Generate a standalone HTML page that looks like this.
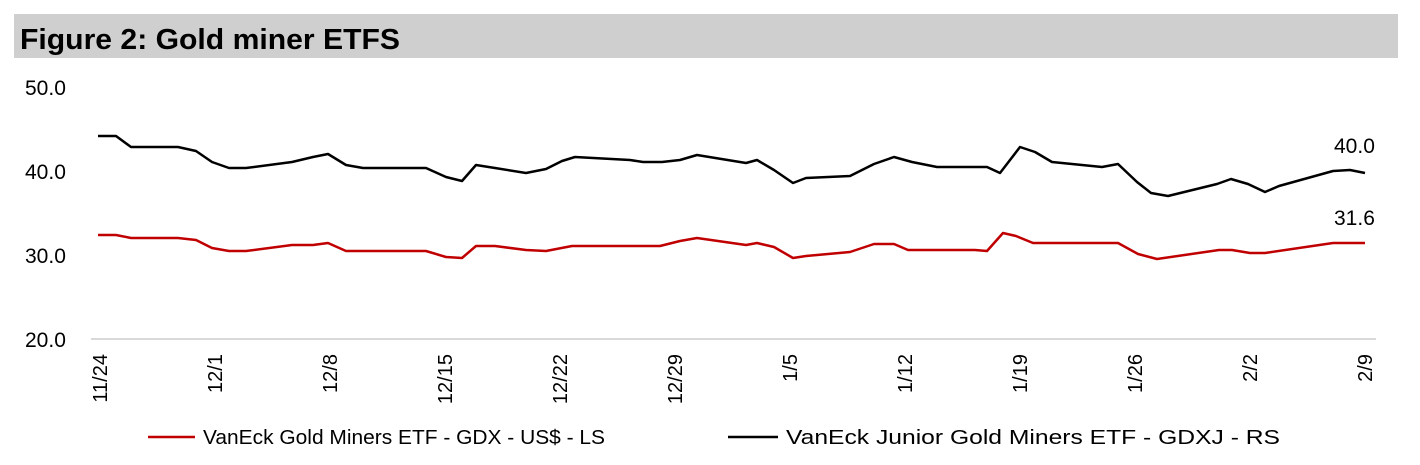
<!DOCTYPE html>
<html><head><meta charset="utf-8"><style>
body{margin:0;background:#fff;width:1420px;height:460px;overflow:hidden;font-family:"Liberation Sans",Arial,sans-serif}
</style></head><body>
<svg width="1420" height="460" xmlns="http://www.w3.org/2000/svg" font-family="Liberation Sans, Arial, sans-serif">
<rect x="14" y="14" width="1384" height="44" fill="#d0cfd0"/>
<text x="20" y="49" font-size="29" font-weight="bold" fill="#000" textLength="380" lengthAdjust="spacingAndGlyphs">Figure 2: Gold miner ETFS</text>
<g font-size="21" fill="#000">
<text x="25" y="95">50.0</text>
<text x="25" y="179">40.0</text>
<text x="25" y="263">30.0</text>
<text x="25" y="347">20.0</text>
<text x="1334" y="153">40.0</text>
<text x="1334" y="225">31.6</text>
</g>
<line x1="91" y1="339" x2="1376" y2="339" stroke="#d9d9d9" stroke-width="2"/>
<g font-size="20" fill="#000" text-anchor="end">
<text transform="translate(107,354) rotate(-90)">11/24</text>
<text transform="translate(222,354) rotate(-90)">12/1</text>
<text transform="translate(337,354) rotate(-90)">12/8</text>
<text transform="translate(452,354) rotate(-90)">12/15</text>
<text transform="translate(567,354) rotate(-90)">12/22</text>
<text transform="translate(682,354) rotate(-90)">12/29</text>
<text transform="translate(797,354) rotate(-90)">1/5</text>
<text transform="translate(912,354) rotate(-90)">1/12</text>
<text transform="translate(1027,354) rotate(-90)">1/19</text>
<text transform="translate(1142,354) rotate(-90)">1/26</text>
<text transform="translate(1257,354) rotate(-90)">2/2</text>
<text transform="translate(1372,354) rotate(-90)">2/9</text>
</g>
<polyline fill="none" stroke="#000" stroke-width="2.5" stroke-linejoin="round" points="98,136 116,136 131,147 178,147 196,151 212,162 229,168 246,168 292,162 313,157 328,154 346,165 363,168 426,168 446,177 462,181 476,165 495,168 526,173 546,169 562,161 575,157 630,160 643,162 662,162 680,160 697,155 746,163 757,160 774,170 793,183 806,178 850,176 874,164 894,157 912,162 937,167 987,167 1000,173 1020,147 1035,152 1052,162 1102,167 1118,164 1137,182 1151,193 1168,196 1217,184 1231,179 1248,184 1265,192 1279,186 1333,171 1350,170 1365,173"/>
<polyline fill="none" stroke="#c00000" stroke-width="2.5" stroke-linejoin="round" points="98,235 116,235 131,238 178,238 196,240 212,248 229,251 246,251 292,245 313,245 328,243 346,251 426,251 446,257 462,258 476,246 495,246 526,250 546,251 572,246 660,246 680,241 697,238 746,245 757,243 774,247 793,258 806,256 850,252 874,244 894,244 908,250 975,250 987,251 1003,233 1016,236 1033,243 1118,243 1138,254 1157,259 1219,250 1232,250 1250,253 1265,253 1333,243 1365,243"/>
<line x1="148" y1="437" x2="195" y2="437" stroke="#c00000" stroke-width="2.5"/>
<text x="203" y="444" font-size="20.5" fill="#000" textLength="402" lengthAdjust="spacingAndGlyphs">VanEck Gold Miners ETF  - GDX  - US$ - LS</text>
<line x1="728" y1="437" x2="778" y2="437" stroke="#000" stroke-width="2.5"/>
<text x="786" y="444" font-size="20.5" fill="#000" textLength="494" lengthAdjust="spacingAndGlyphs">VanEck Junior Gold Miners ETF - GDXJ - RS</text>
</svg>
</body></html>
